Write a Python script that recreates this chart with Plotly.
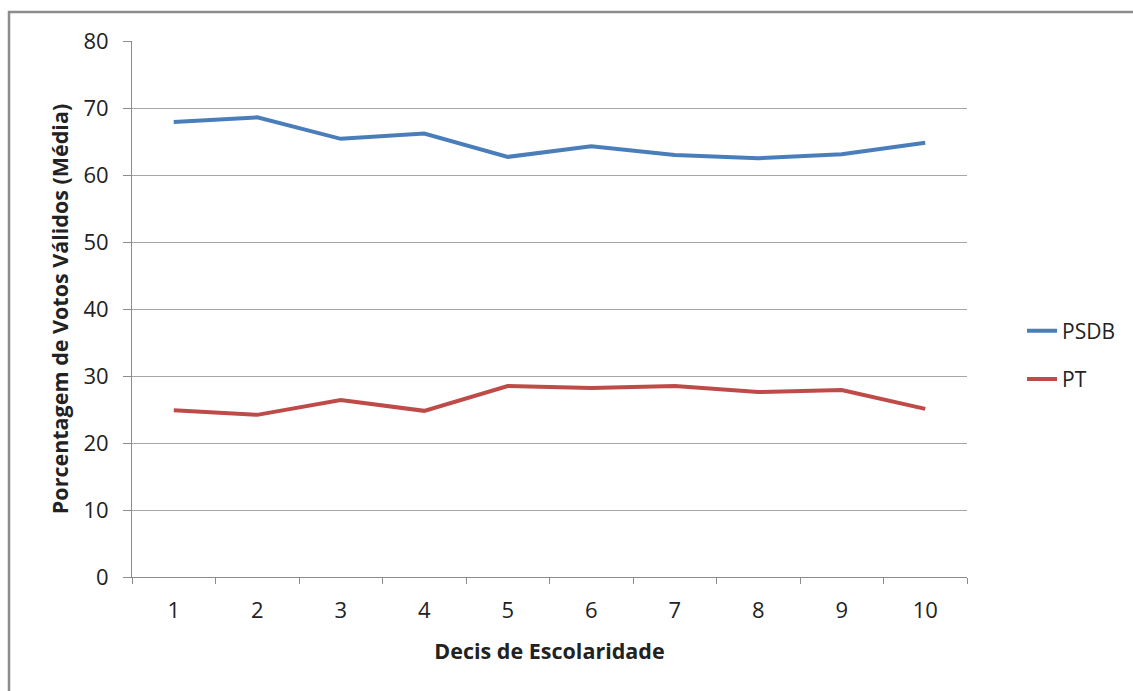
import plotly.graph_objects as go

decis = ["1", "2", "3", "4", "5", "6", "7", "8", "9", "10"]
psdb = [67.9, 68.6, 65.4, 66.2, 62.7, 64.3, 63.0, 62.5, 63.1, 64.8]
pt = [24.9, 24.2, 26.4, 24.8, 28.5, 28.2, 28.5, 27.6, 27.9, 25.1]
y_ticks = [0, 10, 20, 30, 40, 50, 60, 70, 80]

FONT = "'Open Sans', sans-serif"
W, H = 1133, 691
L, R, T, B = 132, 166, 41, 114
pw, ph = W - L - R, H - T - B

fig = go.Figure()
fig.add_trace(go.Scatter(x=decis, y=psdb, mode="lines", name="PSDB",
                         line=dict(color="#4A7EBB", width=4), legendgroup="a"))
fig.add_trace(go.Scatter(x=decis, y=pt, mode="lines", name="PT",
                         line=dict(color="#BE4B48", width=4), legendgroup="b"))

fig.update_layout(
    width=W, height=H,
    margin=dict(l=L, r=R, t=T, b=B, autoexpand=False),
    paper_bgcolor="white", plot_bgcolor="white",
    font=dict(family=FONT, size=22, color="#222222"),
    legend=dict(x=(1022 - L) / pw, xanchor="left", y=(H - B - 355) / ph, yanchor="middle",
                traceorder="grouped", tracegroupgap=18,
                font=dict(size=21, color="#222222"), bgcolor="rgba(0,0,0,0)"),
    xaxis=dict(type="category", range=[-0.5, 9.5], tickson="boundaries", ticks="outside", ticklen=6,
               tickcolor="#8c8c8c", showline=True, linecolor="#8c8c8c", linewidth=1,
               showgrid=False, ticklabelstandoff=14, tickfont=dict(size=22),
               title=dict(text="<b>Decis de Escolaridade</b>", font=dict(size=21.5), standoff=20)),
    yaxis=dict(range=[0, 80], tickvals=y_ticks, ticks="outside", ticklen=8,
               tickcolor="#8c8c8c", showline=True, linecolor="#8c8c8c", linewidth=1,
               showgrid=True, gridcolor="#a6a6a6", gridwidth=1, zeroline=False,
               ticklabelstandoff=10, tickfont=dict(size=22),
               title=dict(text="<b>Porcentagem de Votos Válidos (Média)</b>", font=dict(size=21.5), standoff=8)),
)

# outer chart border
fig.add_shape(type="rect", xref="paper", yref="paper",
              x0=(9 - L) / pw, x1=1 + (R + 10) / pw,
              y0=-(B + 10) / ph, y1=1 + (T - 12) / ph,
              line=dict(color="#8c8c8c", width=2.5), fillcolor="rgba(0,0,0,0)", layer="below")

fig.write_html("out.html", config={"displayModeBar": False},
               post_script="document.body.style.margin='0';")
